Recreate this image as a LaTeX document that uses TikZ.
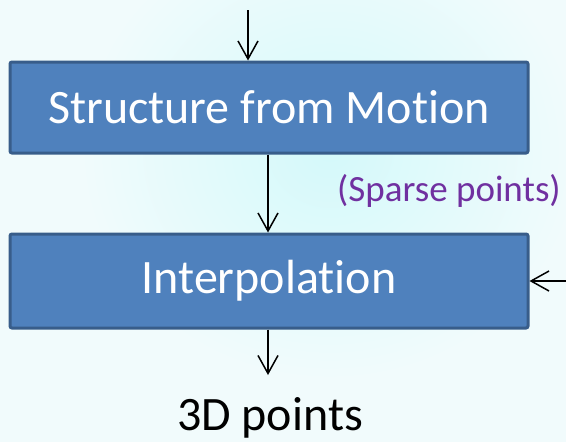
\documentclass[tikz,border=0pt]{standalone}
\usepackage{fontspec}
\setmainfont{Carlito}[Ligatures=NoCommon]
\usetikzlibrary{arrows.meta,positioning,calc}
\definecolor{boxblue}{RGB}{79,129,189}
\definecolor{boxedge}{RGB}{56,93,138}
\definecolor{sparsepurple}{RGB}{112,48,160}
\definecolor{bgcyan}{RGB}{241,251,252}
\definecolor{glowcyan}{RGB}{212,249,250}

\begin{document}
\begin{tikzpicture}[x=1pt, y=-1pt,
    stage/.style={draw=boxedge, fill=boxblue, line width=3pt, rounded corners=2pt,
      text=white, minimum width=518pt, font=\fontsize{48}{52}\selectfont},
    arr/.style={line width=1.5pt, -{Straight Barb[length=18pt, width=20pt, line width=1.5pt]}}]
          \useasboundingbox (0,0) rectangle (566,442);
          % Background
          \fill[bgcyan] (0,0) rectangle (566,442);
          \shade[inner color=glowcyan, outer color=bgcyan] (330,150) ellipse (250pt and 230pt);
          
          \node[stage, minimum height=91pt] (sfm) at (269,107.5) {Structure from Motion};
          \node[stage, minimum height=94pt] (interp) at (269,281) {Interpolation};
          \node[text=sparsepurple, font=\fontsize{37}{41}\selectfont] (sparse) at (449,191) {(Sparse points)};
          \node[font=\fontsize{48}{52}\selectfont, anchor=base] (pts) at (270,430) {3D points};
          
          \coordinate (sfmin) at (248,10);
          \coordinate (interpin) at (566,281);
          \coordinate (ptsin) at (268,375);
          
          % Input arrows
          \draw[arr] (sfmin) -- (sfmin |- sfm.north);
          \draw[arr] (interpin) -- (interp.east);
          
          % Stage to stage
          \draw[arr] (sfm.south -| ptsin) -- (interp.north -| ptsin);
          \draw[arr] (interp.south -| ptsin) -- (ptsin);
        \end{tikzpicture}
\end{document}
